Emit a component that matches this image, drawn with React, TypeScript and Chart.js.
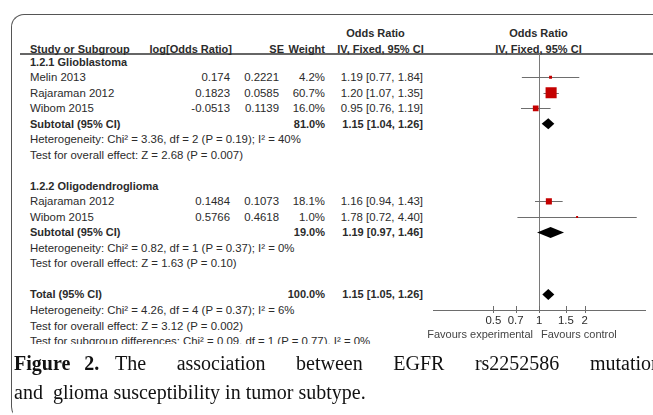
import React, { useEffect, useRef } from "react";
import { Chart, registerables } from "chart.js";

Chart.register(...registerables);

// ---------- data ----------
const groupTitles = ["1.2.1 Glioblastoma", "1.2.2 Oligodendroglioma"];
const groupRows = [0, 8];

const studyNames = ["Melin 2013", "Rajaraman 2012", "Wibom 2015", "Rajaraman 2012", "Wibom 2015"];
const studyRows = [1, 2, 3, 9, 10];
const studyLogOR = ["0.174", "0.1823", "-0.0513", "0.1484", "0.5766"];
const studySE = ["0.2221", "0.0585", "0.1139", "0.1073", "0.4618"];
const studyWeight = [4.2, 60.7, 16.0, 18.1, 1.0];
const studyOR = [1.19, 1.2, 0.95, 1.16, 1.78];
const studyLow = [0.77, 1.07, 0.76, 0.94, 0.72];
const studyHigh = [1.84, 1.35, 1.19, 1.43, 4.4];

const summaryLabels = ["Subtotal (95% CI)", "Subtotal (95% CI)", "Total (95% CI)"];
const summaryRows = [4, 11, 15];
const summaryWeight = [81.0, 19.0, 100.0];
const summaryOR = [1.15, 1.19, 1.15];
const summaryLow = [1.04, 0.97, 1.05];
const summaryHigh = [1.26, 1.46, 1.26];

const statRows = [5, 6, 12, 13, 16, 17, 18];
const statTexts = [
  "Heterogeneity: Chi\u00b2 = 3.36, df = 2 (P = 0.19); I\u00b2 = 40%",
  "Test for overall effect: Z = 2.68 (P = 0.007)",
  "Heterogeneity: Chi\u00b2 = 0.82, df = 1 (P = 0.37); I\u00b2 = 0%",
  "Test for overall effect: Z = 1.63 (P = 0.10)",
  "Heterogeneity: Chi\u00b2 = 4.26, df = 4 (P = 0.37); I\u00b2 = 6%",
  "Test for overall effect: Z = 3.12 (P = 0.002)",
  "Test for subgroup differences: Chi\u00b2 = 0.09, df = 1 (P = 0.77), I\u00b2 = 0%",
];

const axisTicks = [0.5, 0.7, 1, 1.5, 2];
const axisMin = 0.2;
const axisMax = 5;
const rowMin = -0.5;
const rowMax = 16;

const favoursLeft = "Favours experimental";
const favoursRight = "Favours control";
const captionBold = "Figure 2.";
const captionLine1 = "The association between EGFR rs2252586 mutation";
const captionLine2 = "and\u00a0 glioma susceptibility in tumor subtype.";

// ---------- layout ----------
const W = 653;
const H = 415;
const PLOT_LEFT = 433;
const PLOT_RIGHT = 648;
const PLOT_TOP = 54;
const PLOT_BOTTOM = 310;
const AXIS_H = 20;
const rowY = (r: number) => PLOT_TOP + ((r - rowMin) * (PLOT_BOTTOM - PLOT_TOP)) / (rowMax - rowMin);

const FONT = "'Liberation Sans', Arial, sans-serif";
const SERIF = "'Liberation Serif', 'Times New Roman', serif";
const TXT = "#2b2b2b";
const REG = 11.4;
const BOLD = 11;

type TProps = { x: number; y: number; text: string; align?: "left" | "right" | "center"; bold?: boolean; color?: string; size?: number };
function T({ x, y, text, align = "left", bold = false, color = TXT, size }: TProps) {
  const w = 320;
  const left = align === "left" ? x : align === "right" ? x - w : x - w / 2;
  return (
    <div
      style={{
        position: "absolute",
        left,
        top: y - 7,
        width: w,
        height: 14,
        lineHeight: "14px",
        fontSize: size ?? (bold ? BOLD : REG),
        fontFamily: FONT,
        fontWeight: bold ? "bold" : "normal",
        color,
        textAlign: align,
        whiteSpace: "pre",
      }}
    >
      {text}
    </div>
  );
}

const forestPlugin = {
  id: "forest",
  beforeDatasetsDraw(chart: any) {
    const { ctx, chartArea, scales } = chart;
    const x = scales.x;
    const y = scales.y;
    ctx.save();
    const x1 = Math.round(x.getPixelForValue(1)) + 0.5;
    ctx.strokeStyle = "#7a7a7a";
    ctx.lineWidth = 1;
    ctx.beginPath();
    ctx.moveTo(x1, chartArea.top);
    ctx.lineTo(x1, chartArea.bottom);
    ctx.stroke();
    ctx.strokeStyle = "#6e6e6e";
    studyRows.forEach((r, i) => {
      const py = Math.round(y.getPixelForValue(r)) + 0.5;
      const a = Math.max(chartArea.left, x.getPixelForValue(studyLow[i]));
      const b = Math.min(chartArea.right, x.getPixelForValue(studyHigh[i]));
      ctx.beginPath();
      ctx.moveTo(a, py);
      ctx.lineTo(b, py);
      ctx.stroke();
    });
    ctx.restore();
  },
  afterDatasetsDraw(chart: any) {
    const { ctx, scales } = chart;
    const x = scales.x;
    const y = scales.y;
    ctx.save();
    ctx.fillStyle = "#000";
    summaryRows.forEach((r, i) => {
      const py = y.getPixelForValue(r);
      const lo = x.getPixelForValue(summaryLow[i]);
      const mid = x.getPixelForValue(summaryOR[i]);
      const hi = x.getPixelForValue(summaryHigh[i]);
      const h = 5.5;
      ctx.beginPath();
      ctx.moveTo(lo, py);
      ctx.lineTo(mid, py - h);
      ctx.lineTo(hi, py);
      ctx.lineTo(mid, py + h);
      ctx.closePath();
      ctx.fill();
    });
    ctx.restore();
  },
  afterDraw(chart: any) {
    const { ctx, chartArea, scales } = chart;
    const x = scales.x;
    ctx.save();
    ctx.strokeStyle = "#6d6d6d";
    ctx.lineWidth = 1;
    axisTicks.forEach((v) => {
      const px = Math.round(x.getPixelForValue(v)) + 0.5;
      ctx.beginPath();
      ctx.moveTo(px, chartArea.bottom - 4);
      ctx.lineTo(px, chartArea.bottom + 3);
      ctx.stroke();
    });
    ctx.restore();
  },
};

function ForestChart() {
  const ref = useRef<HTMLCanvasElement | null>(null);
  useEffect(() => {
    if (!ref.current) return;
    const sides = studyWeight.map((w) => Math.max(2, Math.sqrt(w) * 1.42));
    const chart = new Chart(ref.current, {
      type: "scatter",
      data: {
        datasets: [
          {
            data: studyOR.map((v, i) => ({ x: v, y: studyRows[i] })),
            pointStyle: "rect",
            pointRadius: sides.map((s) => s / 1.414),
            pointHoverRadius: sides.map((s) => s / 1.414),
            backgroundColor: "#c40000",
            borderWidth: 0,
          },
        ],
      },
      options: {
        animation: false,
        responsive: false,
        events: [],
        layout: {
          padding: { left: PLOT_LEFT, right: W - PLOT_RIGHT, top: PLOT_TOP, bottom: H - PLOT_BOTTOM - AXIS_H },
        },
        plugins: { legend: { display: false }, tooltip: { enabled: false } },
        scales: {
          x: {
            type: "logarithmic",
            min: axisMin,
            max: axisMax,
            position: "bottom",
            grid: { display: false, drawTicks: false },
            border: { display: true, color: "#6d6d6d", width: 1 },
            ticks: {
              color: "#2b2b2b",
              font: { family: FONT, size: 11.4 },
              padding: 4,
              autoSkip: false,
              maxRotation: 0,
              callback: (v: any) => String(v),
            },
            afterBuildTicks: (s: any) => {
              s.ticks = axisTicks.map((v) => ({ value: v }));
            },
            afterFit: (s: any) => {
              s.height = AXIS_H;
            },
          },
          y: { type: "linear", min: rowMin, max: rowMax, reverse: true, display: false },
        },
      },
      plugins: [forestPlugin],
    } as any);
    return () => chart.destroy();
  }, []);
  return <canvas ref={ref} width={W} height={H} style={{ position: "absolute", left: 0, top: 0 }} />;
}

export default function App() {
  const nullX = 540;
  const capStyle: React.CSSProperties = {
    position: "absolute",
    top: 350,
    fontFamily: SERIF,
    fontSize: 20,
    lineHeight: "26px",
    color: "#111",
  };
  return (
    <div style={{ position: "absolute", left: 0, top: 0, width: W, height: H, overflow: "hidden", background: "#fff" }}>
      {/* frame */}
      <div
        style={{
          position: "absolute",
          left: 11,
          top: 14,
          width: 700,
          height: 404,
          borderTop: "1.5px solid #555",
          borderLeft: "1.5px solid #555",
          borderBottom: "1.5px solid #555",
          borderTopLeftRadius: 13,
          borderBottomLeftRadius: 13,
        }}
      />
      {/* header line */}
      <div style={{ position: "absolute", left: 20, top: 53, width: 640, height: 1.5, background: "#666" }} />

      {/* headers */}
      <T x={375.5} y={33} text="Odds Ratio" align="center" bold />
      <T x={538.5} y={33} text="Odds Ratio" align="center" bold />
      <T x={30} y={48.5} text="Study or Subgroup" bold />
      <T x={232} y={48.5} text="log[Odds Ratio]" align="right" bold />
      <T x={284} y={48.5} text="SE" align="right" bold />
      <T x={325} y={48.5} text="Weight" align="right" bold />
      <T x={380.5} y={48.5} text="IV, Fixed, 95% CI" align="center" bold />
      <T x={538.5} y={48.5} text="IV, Fixed, 95% CI" align="center" bold />

      {groupTitles.map((g, i) => (
        <T key={"g" + i} x={30} y={rowY(groupRows[i])} text={g} bold />
      ))}
      {studyNames.map((s, i) => {
        const y = rowY(studyRows[i]);
        return (
          <React.Fragment key={"s" + i}>
            <T x={30} y={y} text={s} />
            <T x={230} y={y} text={studyLogOR[i]} align="right" />
            <T x={279} y={y} text={studySE[i]} align="right" />
            <T x={325} y={y} text={studyWeight[i].toFixed(1) + "%"} align="right" />
            <T
              x={423}
              y={y}
              text={`${studyOR[i].toFixed(2)} [${studyLow[i].toFixed(2)}, ${studyHigh[i].toFixed(2)}]`}
              align="right"
            />
          </React.Fragment>
        );
      })}
      {summaryLabels.map((s, i) => {
        const y = rowY(summaryRows[i]);
        return (
          <React.Fragment key={"t" + i}>
            <T x={30} y={y} text={s} bold />
            <T x={325} y={y} text={summaryWeight[i].toFixed(1) + "%"} align="right" bold />
            <T
              x={423}
              y={y}
              text={`${summaryOR[i].toFixed(2)} [${summaryLow[i].toFixed(2)}, ${summaryHigh[i].toFixed(2)}]`}
              align="right"
              bold
            />
          </React.Fragment>
        );
      })}
      {statTexts.map((s, i) => (
        <T key={"h" + i} x={30} y={rowY(statRows[i])} text={s} />
      ))}

      <ForestChart />

      <T x={nullX - 7} y={334} text={favoursLeft} align="right" color="#444" size={11} />
      <T x={nullX + 1} y={334} text={favoursRight} color="#444" size={11} />

      {/* caption */}
      <div style={{ position: "absolute", left: 13, top: 344, width: 645, height: 80, background: "#fff" }} />
      <div style={{ ...capStyle, left: 14, fontWeight: "bold", wordSpacing: 9, whiteSpace: "pre" }}>{captionBold}</div>
      <div
        style={{
          ...capStyle,
          left: 115,
          width: 546,
          textAlign: "justify",
          textAlignLast: "justify",
        }}
      >
        {captionLine1}
      </div>
      <div style={{ ...capStyle, top: 379, left: 14, whiteSpace: "pre" }}>{captionLine2}</div>
    </div>
  );
}
